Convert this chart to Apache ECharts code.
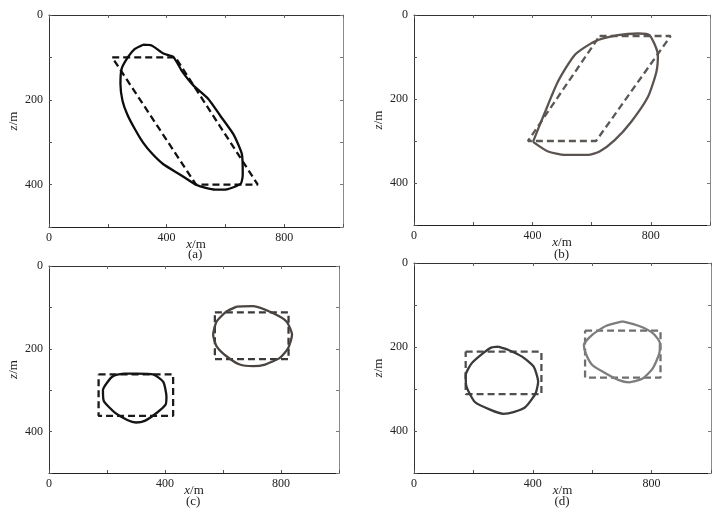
<!DOCTYPE html>
<html>
<head>
<meta charset="utf-8">
<script src="https://cdn.jsdelivr.net/npm/echarts@6/dist/echarts.min.js"></script>
<style>html,body{margin:0;padding:0;background:#fff}#c{width:727px;height:515px}</style>
</head>
<body>
<div id="c"></div>
<script>
// ---- data (x in m, z in m) ----
const xTickLabels = [0, 400, 800];
const zTickLabels = [0, 200, 400];
const panelLabels = ['(a)', '(b)', '(c)', '(d)'];

// (a)
const aModel = [[215,100],[430,100],[710,400],[500,400],[215,100]];
const aInverted = [[320,70],[349,72],[389,91],[423,99],[451,131],[491,166],[542,198],[582,237],[627,281],[656,328],[659,376],[652,398],[605,411],[565,412],[502,401],[445,376],[389,352],[352,328],[320,301],[292,269],[266,234],[250,202],[243,163],[247,127],[269,99],[292,80],[320,70]];
// (b)
const bModel = [[627,50],[867,50],[615,300],[385,300],[627,50]];
const bInverted = [[402,302],[441,234],[486,159],[543,95],[610,63],[689,48],[757,44],[796,48],[824,95],[819,135],[791,194],[734,254],[678,298],[627,325],[588,333],[509,333],[453,325],[402,302]];
// (c)
const cModel1 = [[171,262],[428,262],[428,362],[171,362],[171,262]];
const cInverted1 = [[302,260],[359,262],[394,280],[405,316],[402,335],[371,355],[330,374],[300,378],[270,372],[227,354],[189,326],[186,300],[200,282],[221,266],[260,260],[302,260]];
const cModel2 = [[572,112],[826,112],[826,225],[572,225],[572,112]];
const cInverted2 = [[647,98],[704,97],[773,114],[819,134],[838,166],[825,198],[796,222],[745,238],[704,242],[658,238],[612,218],[578,194],[566,166],[578,134],[612,110],[647,98]];
// (d)
const dModel1 = [[174,211],[429,211],[429,312],[174,312],[174,211]];
const dInverted1 = [[284,199],[318,207],[364,223],[403,247],[418,283],[409,311],[375,343],[335,355],[301,359],[256,349],[205,331],[177,295],[174,267],[194,239],[234,214],[262,201],[284,199]];
const dModel2 = [[576,161],[830,161],[830,273],[576,273],[576,161]];
const dInverted2 = [[702,139],[758,150],[804,167],[828,191],[826,215],[804,251],[770,275],[724,284],[690,279],[646,263],[600,243],[578,215],[572,195],[600,171],[646,150],[702,139]];

// ---- layout ----
const FONT = '"Liberation Serif","Times New Roman",serif';
const grids = [
  {left: 49, top: 15, width: 294, height: 212},
  {left: 414, top: 15, width: 296, height: 210},
  {left: 49, top: 266, width: 290, height: 207},
  {left: 414, top: 263, width: 297, height: 210}
];

const xAxes = [], yAxes = [];
grids.forEach((g, i) => {
  xAxes.push({
    gridIndex: i, type: 'value', min: 0, max: 1000, interval: 200, position: 'bottom',
    name: '{i|x}/m', nameLocation: 'middle', nameGap: 11, nameMoveOverlap: false,
    nameTextStyle: {fontFamily: FONT, fontSize: 13, color: '#222', rich: {i: {fontStyle: 'italic', fontFamily: FONT, fontSize: 13, color: '#222'}}},
    axisLine: {show: true, onZero: false, lineStyle: {color: '#222', width: 1}},
    axisTick: {show: true, inside: true, length: 3, lineStyle: {color: '#555'}},
    axisLabel: {fontFamily: FONT, fontSize: 12, color: '#222', margin: 5,
      formatter: v => xTickLabels.indexOf(v) >= 0 ? String(v) : ''},
    splitLine: {show: false}
  });
  xAxes.push({
    gridIndex: i, type: 'value', min: 0, max: 1000, interval: 200, position: 'top',
    axisLine: {show: true, onZero: false, lineStyle: {color: '#333', width: 1}},
    axisTick: {show: true, inside: true, length: 3, lineStyle: {color: '#666'}},
    axisLabel: {show: false}, splitLine: {show: false}
  });
  yAxes.push({
    gridIndex: i, type: 'value', min: 0, max: 500, interval: 100, inverse: true, position: 'left',
    name: '{i|z}/m', nameLocation: 'middle', nameGap: 29, nameRotate: 90, nameMoveOverlap: false,
    nameTextStyle: {fontFamily: FONT, fontSize: 13, color: '#222', rich: {i: {fontStyle: 'italic', fontFamily: FONT, fontSize: 13, color: '#222'}}},
    axisLine: {show: true, onZero: false, lineStyle: {color: '#333', width: 1}},
    axisTick: {show: true, inside: true, length: 3, lineStyle: {color: '#555'}},
    axisLabel: {fontFamily: FONT, fontSize: 12, color: '#222', margin: 6,
      formatter: v => zTickLabels.indexOf(v) >= 0 ? String(v) : ''},
    splitLine: {show: false}
  });
  yAxes.push({
    gridIndex: i, type: 'value', min: 0, max: 500, interval: 100, inverse: true, position: 'right',
    axisLine: {show: true, onZero: false, lineStyle: {color: '#8a8a8a', width: 1}},
    axisTick: {show: true, inside: true, length: 3, lineStyle: {color: '#777'}},
    axisLabel: {show: false}, splitLine: {show: false}
  });
});

function line(data, gi, color, dashed) {
  return {
    type: 'line', data: data, xAxisIndex: gi * 2, yAxisIndex: gi * 2,
    showSymbol: false, symbol: 'none', smooth: dashed ? false : 0.2, silent: true,
    lineStyle: {color: color, width: 2.3, type: dashed ? [7, 4] : 'solid'},
    z: dashed ? 3 : 4
  };
}

const series = [
  line(aModel, 0, '#111111', true),
  line(aInverted, 0, '#0d0d0d', false),
  line(bModel, 1, '#5b5755', true),
  line(bInverted, 1, '#5a5350', false),
  line(cModel1, 2, '#1a1a1a', true),
  line(cInverted1, 2, '#151515', false),
  line(cModel2, 2, '#3a3a3a', true),
  line(cInverted2, 2, '#4a4441', false),
  line(dModel1, 3, '#505050', true),
  line(dInverted1, 3, '#3b3b3b', false),
  line(dModel2, 3, '#6e6e6e', true),
  line(dInverted2, 3, '#7d7d7d', false)
];

const labelY = [255, 255, 502, 502];
const graphics = grids.map((g, i) => ({
  type: 'text', left: g.left + g.width / 2 - 8, top: labelY[i] - 7,
  style: {text: panelLabels[i], font: '13px ' + FONT, fill: '#222'}
}));

const chart = echarts.init(document.getElementById('c'), null, {renderer: 'canvas'});
chart.setOption({
  animation: false,
  backgroundColor: '#ffffff',
  grid: grids,
  xAxis: xAxes,
  yAxis: yAxes,
  series: series,
  graphic: graphics
});
</script>
</body>
</html>
